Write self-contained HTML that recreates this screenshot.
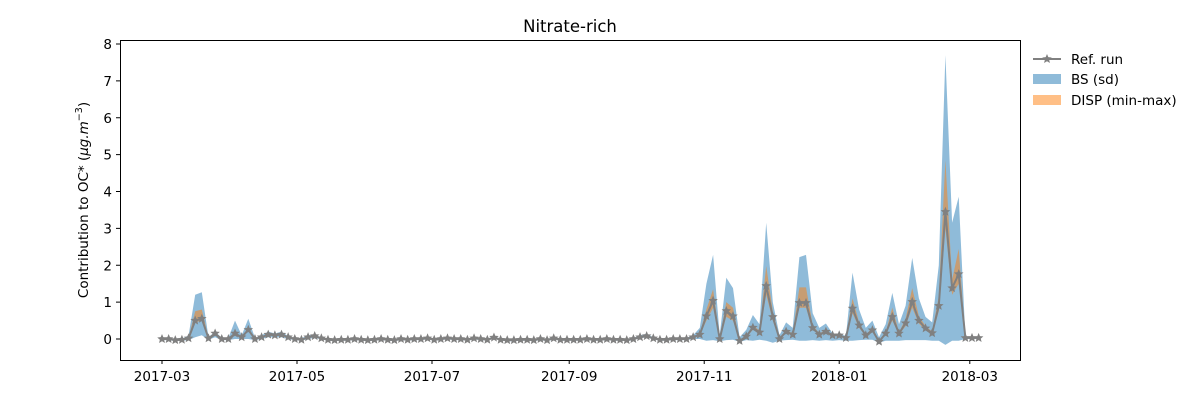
<!DOCTYPE html>
<html><head><meta charset="utf-8"><style>
body{margin:0;background:#fff;font-family:"Liberation Sans",sans-serif}
svg text{font-family:"DejaVu Sans","Liberation Sans",sans-serif;fill:#000}
</style></head><body>
<svg id="chart" width="1200" height="400" viewBox="0 0 1200 400" xmlns="http://www.w3.org/2000/svg">
<rect width="1200" height="400" fill="#fff"/>
<text x="570" y="32" font-size="16.5" text-anchor="middle">Nitrate-rich</text>
<g id="bands"></g><g id="lines"></g>
<rect x="120.5" y="40.5" width="900" height="320" fill="none" stroke="#000" stroke-width="1"/>
<g id="axes"></g>
<text transform="translate(88,200) rotate(-90)" font-size="13.5" text-anchor="middle">Contribution to OC* (<tspan font-style="italic">μg.m</tspan><tspan font-size="9.5" dy="-6">−3</tspan><tspan dy="6">)</tspan></text>
<g>
<g><line x1="1033" y1="59" x2="1061" y2="59" stroke="#808080" stroke-width="2"/><path id="legstar" fill="#808080"/><text x="1071" y="64" font-size="13.5">Ref. run</text></g>
<g><rect x="1033" y="74" width="28" height="10" fill="#1f77b4" fill-opacity="0.5"/><text x="1071" y="84" font-size="13.5">BS (sd)</text></g>
<g><rect x="1033" y="95" width="28" height="10" fill="#ff7f0e" fill-opacity="0.5"/><text x="1071" y="105" font-size="13.5">DISP (min-max)</text></g>
</g>
</svg>
<script>
const ref=[0,0,-0.03,-0.02,0.02,0.5,0.55,0.02,0.15,0,0,0.15,0.05,0.25,0,0.05,0.12,0.1,0.12,0.05,0,-0.02,0.05,0.08,
0.02,-0.02,-0.03,-0.02,-0.02,0,-0.02,-0.03,-0.02,0,
-0.02,-0.03,0,-0.02,0,0,0.02,-0.02,0,0.02,
0,0,-0.02,0.02,0,-0.02,0.04,-0.02,-0.03,-0.03,
-0.02,-0.02,-0.03,0,-0.03,0.02,-0.02,-0.02,-0.02,-0.02,
0,-0.02,-0.02,0,-0.02,-0.02,-0.03,0,0.05,0.08,
0.02,-0.02,-0.02,0,
0,0,0.05,0.12,0.62,1.04,0,0.76,0.62,-0.05,0.07,0.31,0.18,1.44,0.6,0,0.2,0.12,0.98,0.98,0.3,0.12,0.2,0.1,0.1,0.03,
0.83,0.37,0.1,0.24,-0.07,0.15,0.6,0.15,0.43,1.01,0.5,0.29,0.16,0.9,3.45,1.38,1.76,
0.03,0.03,0.03];
const bsHi=[0.02,0.02,0,0,0.1,1.2,1.27,0.05,0.2,0.03,0.03,0.5,0.1,0.55,0.03,0.1,0.2,0.15,0.2,0.08,0.03,0.02,0.1,0.12,
0.05,0.01,0,0.01,0.01,0.03,0.01,0,0.01,0.03,
0.01,0,0.03,0.01,0.03,0.03,0.05,0.01,0.03,0.05,
0.03,0.03,0.01,0.05,0.03,0.01,0.07,0.01,0,0,
0.01,0.01,0,0.03,0,0.05,0.01,0.01,0.01,0.01,
0.03,0.01,0.01,0.03,0.01,0.01,0,0.03,0.1,0.14,
0.05,0.01,0.01,0.03,
0.02,0.03,0.1,0.3,1.5,2.28,0.1,1.66,1.38,0.05,0.25,0.65,0.4,3.15,1.0,0.1,0.45,0.3,2.22,2.28,0.7,0.3,0.42,0.15,0.15,0.08,
1.8,0.8,0.3,0.5,0.05,0.4,1.25,0.4,0.9,2.2,1.1,0.6,0.45,2.0,7.7,3.15,3.86,
0.05,0.06,0.06];
const bsLo=[-0.03,-0.03,-0.06,-0.05,-0.03,0.05,0.1,-0.02,0.05,-0.03,-0.03,0,0,0,-0.03,0,0.05,0.05,0.05,0,-0.03,-0.05,0,0.03,
-0.01,-0.05,-0.06,-0.05,-0.05,-0.03,-0.05,-0.06,-0.05,-0.03,
-0.05,-0.06,-0.03,-0.05,-0.03,-0.03,-0.01,-0.05,-0.03,-0.01,
-0.03,-0.03,-0.05,-0.01,-0.03,-0.05,0.01,-0.05,-0.06,-0.06,
-0.05,-0.05,-0.06,-0.03,-0.06,-0.01,-0.05,-0.05,-0.05,-0.05,
-0.03,-0.05,-0.05,-0.03,-0.05,-0.05,-0.06,-0.03,0.02,0.04,
-0.01,-0.05,-0.05,-0.03,
-0.03,-0.03,0,0,-0.05,-0.03,-0.06,-0.03,-0.02,-0.08,-0.03,-0.05,-0.02,-0.05,-0.1,-0.05,-0.03,-0.02,-0.05,-0.05,-0.03,-0.05,-0.03,-0.05,-0.03,-0.05,
-0.05,-0.03,-0.02,-0.02,-0.1,-0.05,-0.05,-0.05,-0.03,-0.03,-0.03,-0.03,-0.05,-0.05,-0.16,-0.05,-0.05,
0,0,0];
const dispHi=[0,0,-0.03,-0.02,0.03,0.75,0.8,0.03,0.18,0,0,0.18,0.06,0.3,0,0.06,0.14,0.12,0.14,0.06,0,-0.02,0.06,0.09,
0.02,-0.02,-0.03,-0.02,-0.02,0,-0.02,-0.03,-0.02,0,
-0.02,-0.03,0,-0.02,0,0,0.02,-0.02,0,0.02,
0,0,-0.02,0.02,0,-0.02,0.04,-0.02,-0.03,-0.03,
-0.02,-0.02,-0.03,0,-0.03,0.02,-0.02,-0.02,-0.02,-0.02,
0,-0.02,-0.02,0,-0.02,-0.02,-0.03,0,0.05,0.08,
0.02,-0.02,-0.02,0,
0,0,0.06,0.15,0.8,1.35,0.02,1.0,0.85,-0.04,0.09,0.38,0.22,1.98,0.75,0.02,0.25,0.15,1.4,1.4,0.38,0.15,0.25,0.12,0.12,0.04,
1.1,0.45,0.12,0.3,-0.06,0.18,0.85,0.18,0.55,1.38,0.62,0.35,0.2,1.15,4.85,1.6,2.44,
0.03,0.03,0.03];
const dispLo=[0,0,-0.03,-0.02,0.01,0.45,0.5,0.01,0.13,0,0,0.13,0.04,0.22,0,0.04,0.1,0.08,0.1,0.04,0,-0.02,0.04,0.07,
0.02,-0.02,-0.03,-0.02,-0.02,0,-0.02,-0.03,-0.02,0,
-0.02,-0.03,0,-0.02,0,0,0.02,-0.02,0,0.02,
0,0,-0.02,0.02,0,-0.02,0.04,-0.02,-0.03,-0.03,
-0.02,-0.02,-0.03,0,-0.03,0.02,-0.02,-0.02,-0.02,-0.02,
0,-0.02,-0.02,0,-0.02,-0.02,-0.03,0,0.05,0.08,
0.02,-0.02,-0.02,0,
0,0,0.04,0.1,0.5,0.85,-0.01,0.6,0.5,-0.06,0.05,0.25,0.14,1.2,0.5,-0.01,0.16,0.1,0.85,0.85,0.25,0.1,0.16,0.08,0.08,0.02,
0.7,0.3,0.08,0.2,-0.08,0.12,0.5,0.12,0.35,0.85,0.42,0.24,0.13,0.75,3.0,1.2,1.5,
0.03,0.03,0.03];
const startDate="2017-03-01";
const stepDays=3;
const xTickLabels=["2017-03","2017-05","2017-07","2017-09","2017-11","2018-01","2018-03"];
const yTickLabels=[0,1,2,3,4,5,6,7,8];

const NS="http://www.w3.org/2000/svg";
const t0=Date.parse(startDate+"T00:00:00Z");
const pxPerDay=135/61;
function xDate(ms){return 162+(ms-t0)/86400000*pxPerDay;}
function xIdx(i){return xDate(t0+i*stepDays*86400000);}
function y(v){return 339-v*36.875;}
function mk(tag,attrs,parent){const e=document.createElementNS(NS,tag);for(const k in attrs)e.setAttribute(k,attrs[k]);parent.appendChild(e);return e;}
function band(lo,hi){let d="";for(let i=0;i<hi.length;i++)d+=(i?"L":"M")+xIdx(i).toFixed(1)+","+y(hi[i]).toFixed(1);for(let i=lo.length-1;i>=0;i--)d+="L"+xIdx(i).toFixed(1)+","+y(lo[i]).toFixed(1);return d+"Z";}
const bands=document.getElementById("bands");
const bs=mk("path",{d:band(bsLo,bsHi),fill:"#1f77b4","fill-opacity":"0.5"},bands);


const dp=mk("path",{d:band(dispLo,dispHi),fill:"#ff7f0e","fill-opacity":"0.5"},bands);


const lines=document.getElementById("lines");
let ld="";ref.forEach((v,i)=>{ld+=(i?"L":"M")+xIdx(i).toFixed(1)+","+y(v).toFixed(1);});
const ln=mk("path",{d:ld,fill:"none",stroke:"#808080","stroke-width":"2"},lines);


function star(cx,cy,r){let d="";for(let k=0;k<10;k++){const a=-Math.PI/2+k*Math.PI/5;const rr=k%2?r*0.45:r;d+=(k?"L":"M")+(cx+rr*Math.cos(a)).toFixed(2)+","+(cy+rr*Math.sin(a)).toFixed(2);}return d+"Z";}
ref.forEach((v,i)=>{
  const s=mk("path",{d:star(xIdx(i),y(v),5),fill:"#808080"},lines);
  
  
});
document.getElementById("legstar").setAttribute("d",star(1047,59,5));
const axes=document.getElementById("axes");
xTickLabels.forEach(lab=>{
  const x=xDate(Date.parse(lab+"-01T00:00:00Z"));
  const tk=mk("line",{x1:x,x2:x,y1:360,y2:364,stroke:"#000"},axes);
  
  
  const tx=mk("text",{x:x,y:381,"font-size":"13.5","text-anchor":"middle"},axes);
  tx.textContent=lab;
  
  
});
yTickLabels.forEach(v=>{
  const yy=y(v);
  const tk=mk("line",{x1:116,x2:120,y1:yy,y2:yy,stroke:"#000"},axes);
  
  
  const tx=mk("text",{x:112,y:yy+5,"font-size":"13.5","text-anchor":"end"},axes);
  tx.textContent=v;
  
  
});
</script>
</body></html>
